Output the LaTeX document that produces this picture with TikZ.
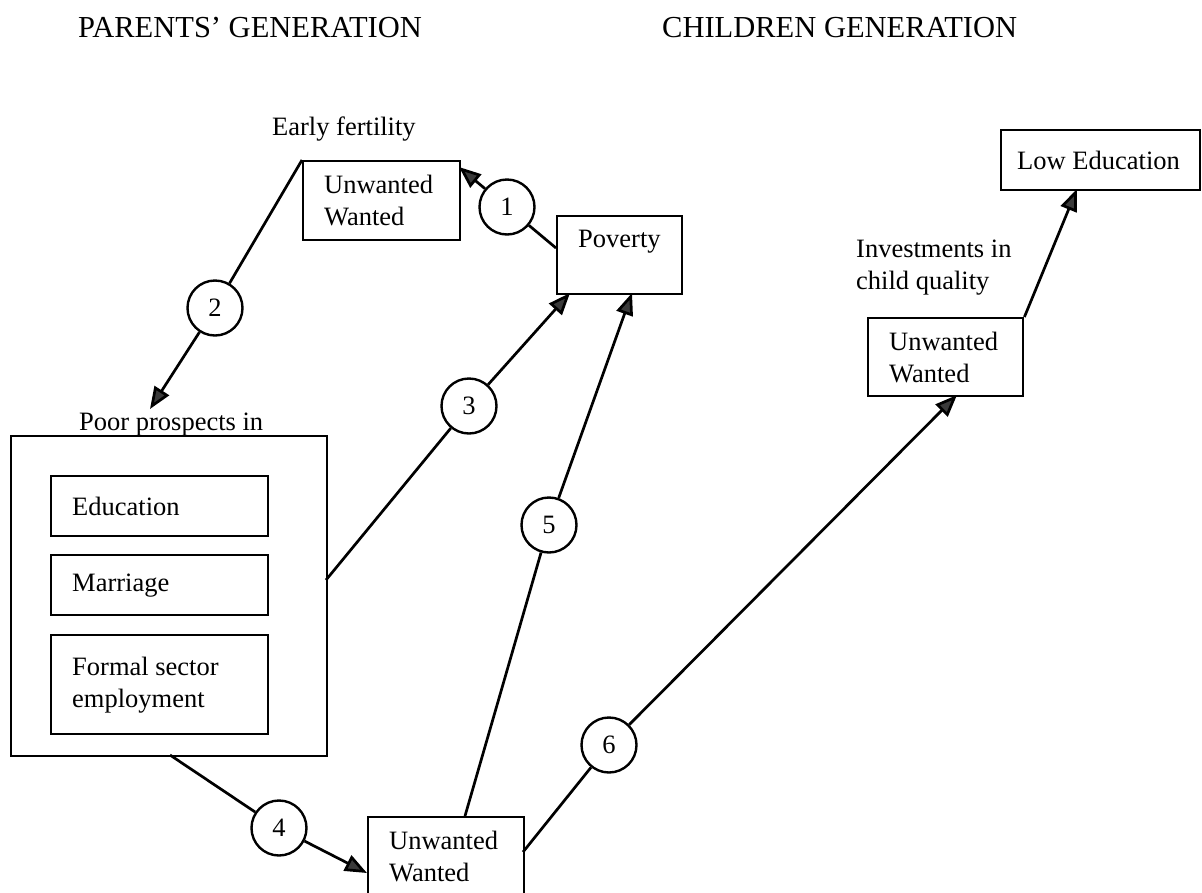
\documentclass[tikz,border=0pt]{standalone}
\usepackage{fontspec}
\setmainfont{Liberation Serif}
\usetikzlibrary{arrows.meta}
\definecolor{arrowgray}{HTML}{3A3A3A}
\begin{document}
\begin{tikzpicture}[x=1pt,y=-1pt,
  every node/.style={font=\fontsize{26.5}{32}\selectfont},
  box/.style={draw, line width=2.4pt, inner xsep=21pt, inner ysep=0pt, align=flush left, anchor=north west},
  num/.style={circle, draw, line width=2.4pt, minimum size=55pt, inner sep=0pt},
  link/.style={line width=2.7pt},
  arrowlink/.style={line width=2.7pt, -{Triangle[length=22pt,width=17pt,fill=arrowgray]}},
  title/.style={font=\fontsize{30.5}{36}\selectfont, anchor=base west, inner sep=0pt},
  lbl/.style={anchor=base west, inner sep=0pt}
]
\useasboundingbox (0,0) rectangle (1202,892);
\clip (0,0) rectangle (1202,892);
\fill[white] (0,0) rectangle (1202,892);

% titles
\node[title] (tp) at (78,37) {PARENTS’ GENERATION};
\node[title] (tc) at (662,37) {CHILDREN GENERATION};

% labels
\node[lbl] (early) at (272,135) {Early fertility};
\node[lbl] (poor) at (79,430) {Poor prospects in};
\node[lbl, text width=200pt, align=flush left] (invest) at (856,257) {Investments in\\child quality};

% boxes
\node[box, text width=115pt, minimum height=79pt] (uw1) at (302,160) {Unwanted\\Wanted};
\node[box, text width=83pt, minimum height=78pt] (pov) at (556,215) {Poverty\\~};
\node[draw, line width=2.4pt, anchor=north west, minimum width=316pt, minimum height=320pt, inner sep=0pt] (outer) at (10,435) {};
\node[box, text width=175pt, minimum height=60pt] (edu) at (50,475) {Education};
\node[box, text width=175pt, minimum height=60pt] (mar) at (50,554) {Marriage};
\node[box, text width=175pt, minimum height=99pt] (form) at (50,634) {Formal sector\\employment};
\node[box, text width=114pt, minimum height=79pt] (uw3) at (367,816) {Unwanted\\Wanted};
\node[box, text width=113pt, minimum height=78pt] (uw2) at (867,317) {Unwanted\\Wanted};
\node[box, inner xsep=16pt, text width=167pt, minimum height=60pt] (lowedu) at (1000,129) {Low Education};

% numbered circles
\node[num] (c1) at (507,207) {1};
\node[num] (c2) at (215,308) {2};
\node[num] (c3) at (469,406) {3};
\node[num] (c4) at (279,828) {4};
\node[num] (c5) at (549,525) {5};
\node[num] (c6) at (609,745) {6};

% connector end points on box borders
\coordinate (p1s) at (556,248);
\coordinate (p1e) at (459,167);
\coordinate (p2e) at (150,409);
\coordinate (p3s) at (326,580);
\coordinate (p3e) at (570,293);
\coordinate (p4s) at (170,755);
\coordinate (p4e) at (367,873);
\coordinate (p5s) at (465,816);
\coordinate (p5e) at (632,293);
\coordinate (p6s) at (523,852);
\coordinate (p6e) at (957,395);
\coordinate (p7e) at (1077,189);

% connectors
\draw[link] (p1s) -- (c1);
\draw[arrowlink] (c1) -- (p1e);
\draw[link] (uw1.north west) -- (c2);
\draw[arrowlink] (c2) -- (p2e);
\draw[link] (p3s) -- (c3);
\draw[arrowlink] (c3) -- (p3e);
\draw[link] (p4s) -- (c4);
\draw[arrowlink] (c4) -- (p4e);
\draw[link] (p5s) -- (c5);
\draw[arrowlink] (c5) -- (p5e);
\draw[link] (p6s) -- (c6);
\draw[arrowlink] (c6) -- (p6e);
\draw[arrowlink] (uw2.north east) -- (p7e);
\end{tikzpicture}
\end{document}
